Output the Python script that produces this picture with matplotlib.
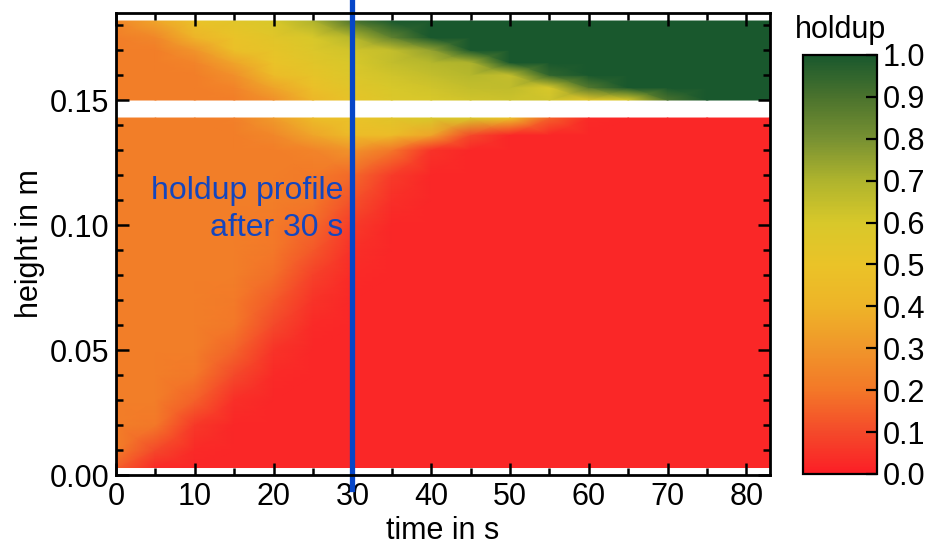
import numpy as np
import matplotlib
matplotlib.use("Agg")
import matplotlib.pyplot as plt
from matplotlib.colors import LinearSegmentedColormap

plt.rcParams['font.family'] = ['Liberation Sans', 'DejaVu Sans']

# time nodes in s
time_s = [0, 5, 10, 15, 20, 25, 30, 35, 40, 45, 50, 55, 60, 65, 70, 75, 83]

# lower column section (below the gap), height in m
h_lower = [0.003, 0.01, 0.02, 0.03, 0.04, 0.05, 0.06, 0.07, 0.08, 0.09,
           0.10, 0.11, 0.12, 0.13, 0.136, 0.1428]
holdup_lower = [
    [.15, .03, .02, .02, .02, .02, .02, .02, .02, .02, .02, .02, .02, .02, .02, .02, .02],
    [.22, .10, .03, .02, .02, .02, .02, .02, .02, .02, .02, .02, .02, .02, .02, .02, .02],
    [.22, .20, .06, .02, .02, .02, .02, .02, .02, .02, .02, .02, .02, .02, .02, .02, .02],
    [.22, .22, .15, .04, .02, .02, .02, .02, .02, .02, .02, .02, .02, .02, .02, .02, .02],
    [.22, .22, .20, .10, .03, .02, .02, .02, .02, .02, .02, .02, .02, .02, .02, .02, .02],
    [.22, .22, .22, .16, .05, .02, .02, .02, .02, .02, .02, .02, .02, .02, .02, .02, .02],
    [.22, .22, .22, .20, .10, .03, .02, .02, .02, .02, .02, .02, .02, .02, .02, .02, .02],
    [.22, .22, .22, .21, .14, .05, .02, .02, .02, .02, .02, .02, .02, .02, .02, .02, .02],
    [.22, .22, .22, .22, .18, .08, .03, .02, .02, .02, .02, .02, .02, .02, .02, .02, .02],
    [.22, .22, .22, .22, .20, .13, .04, .02, .02, .02, .02, .02, .02, .02, .02, .02, .02],
    [.22, .22, .22, .22, .21, .17, .07, .02, .02, .02, .02, .02, .02, .02, .02, .02, .02],
    [.22, .22, .22, .22, .22, .20, .12, .04, .02, .02, .02, .02, .02, .02, .02, .02, .02],
    [.22, .22, .22, .22, .22, .21, .17, .07, .02, .02, .02, .02, .02, .02, .02, .02, .02],
    [.22, .22, .22, .22, .22, .24, .30, .20, .05, .02, .02, .02, .02, .02, .02, .02, .02],
    [.22, .22, .22, .22, .25, .35, .45, .45, .35, .10, .02, .02, .02, .02, .02, .02, .02],
    [.22, .22, .22, .23, .32, .45, .50, .55, .60, .60, .50, .15, .03, .02, .02, .02, .02],
]

# upper column section (above the gap)
h_upper = [0.150, 0.155, 0.160, 0.165, 0.170, 0.175, 0.1816]
holdup_upper = [
    [.22, .22, .22, .22, .28, .42, .52, .58, .60, .62, .63, .62, .55, .60, .90, 1.0, 1.0],
    [.22, .22, .22, .24, .35, .48, .55, .60, .62, .65, .66, .60, .88, 1.0, 1.0, 1.0, 1.0],
    [.22, .22, .22, .28, .45, .52, .58, .62, .65, .68, .65, .95, 1.0, 1.0, 1.0, 1.0, 1.0],
    [.22, .22, .24, .35, .50, .55, .60, .65, .68, .70, 1.0, 1.0, 1.0, 1.0, 1.0, 1.0, 1.0],
    [.22, .22, .30, .48, .52, .58, .62, .65, .75, 1.0, 1.0, 1.0, 1.0, 1.0, 1.0, 1.0, 1.0],
    [.22, .25, .40, .50, .55, .60, .68, .85, 1.0, 1.0, 1.0, 1.0, 1.0, 1.0, 1.0, 1.0, 1.0],
    [.25, .35, .50, .55, .60, .70, .90, 1.0, 1.0, 1.0, 1.0, 1.0, 1.0, 1.0, 1.0, 1.0, 1.0],
]

profile_time = 30
cbar_ticks = [0.0, 0.1, 0.2, 0.3, 0.4, 0.5, 0.6, 0.7, 0.8, 0.9, 1.0]

cmap = LinearSegmentedColormap.from_list("holdup", [
    (0.0, "#FC1E26"), (0.1, "#F44A2A"), (0.2, "#F37828"), (0.3, "#F0962A"),
    (0.4, "#EEB428"), (0.5, "#EAC328"), (0.6, "#D8C82A"), (0.7, "#AFB42D"),
    (0.8, "#789132"), (0.9, "#4B732D"), (1.0, "#19582D")])

fs = 22

fig = plt.figure(figsize=(9.36, 5.47), dpi=100)
ax = fig.add_axes([0.124, 0.1316, 0.6987, 0.8446])

mesh = ax.pcolormesh(time_s, h_lower, np.array(holdup_lower), shading='gouraud',
                     cmap=cmap, vmin=0, vmax=1)
ax.pcolormesh(time_s, h_upper, np.array(holdup_upper), shading='gouraud',
              cmap=cmap, vmin=0, vmax=1)

ax.set_xlim(0, 83)
ax.set_ylim(0, 0.1848)
ax.set_xticks(range(0, 81, 10))
ax.set_xticks(range(0, 84, 5), minor=True)
ax.set_yticks([0, 0.05, 0.10, 0.15])
ax.set_yticklabels(['0.00', '0.05', '0.10', '0.15'])
ax.set_yticks(np.arange(0, 0.185, 0.01), minor=True)
ax.tick_params(which='both', direction='in', top=True, right=True,
               labelsize=fs, width=1.8, pad=5)
ax.tick_params(which='major', length=9)
ax.tick_params(which='minor', length=5)
for s in ax.spines.values():
    s.set_linewidth(2)
ax.set_xlabel('time in s', fontsize=fs, labelpad=3)
ax.set_ylabel('height in m', fontsize=fs, labelpad=3)

ax.axvline(profile_time, ymin=-0.03, ymax=1.03, color='#0646C8', lw=3.8, clip_on=False)
ax.text(profile_time - 1.2, 0.1062, 'holdup profile\nafter 30 s', color='#1446BE',
        fontsize=23, ha='right', va='center', multialignment='right', linespacing=1.3)

cax = fig.add_axes([0.858, 0.1335, 0.079, 0.766])
cb = fig.colorbar(mesh, cax=cax)
cb.set_ticks(cbar_ticks)
cb.set_ticklabels([f'{v:.1f}' for v in cbar_ticks])
cax.tick_params(direction='in', length=8, width=1.6, labelsize=fs, pad=4)
cb.outline.set_linewidth(1.6)
cax.set_title('holdup', fontsize=fs, pad=12)

fig.savefig('out.png', dpi=100)
